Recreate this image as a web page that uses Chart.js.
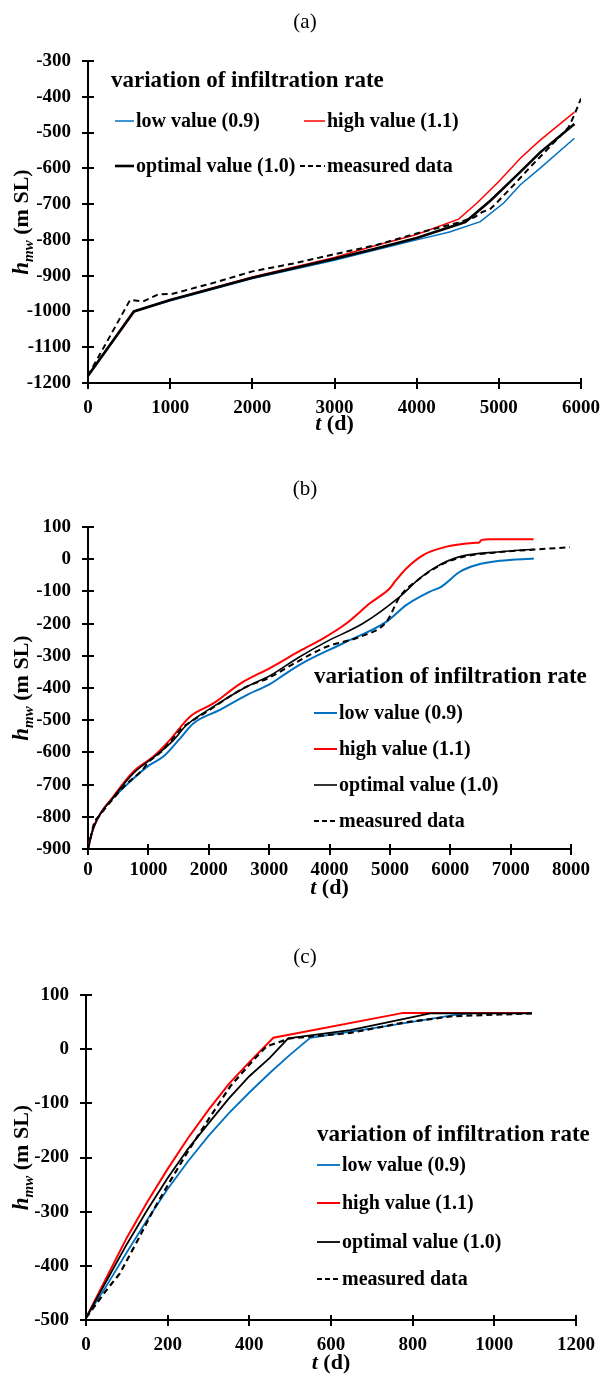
<!DOCTYPE html>
<html>
<head>
<meta charset="utf-8">
<script src="https://cdn.jsdelivr.net/npm/chart.js@4.4.1/dist/chart.umd.min.js"></script>
<style>
  body { margin: 0; background: #fff; }
  #wrap { position: relative; width: 600px; height: 1376px; }
  canvas { position: absolute; left: 0; }
</style>
</head>
<body>
<div id="wrap">
  <canvas id="chartA" width="600" height="440" style="top:0px"></canvas>
  <canvas id="chartB" width="600" height="470" style="top:440px"></canvas>
  <canvas id="chartC" width="600" height="466" style="top:910px"></canvas>
</div>
<script>
const seriesNames = ['low value (0.9)', 'high value (1.1)', 'optimal value (1.0)', 'measured data'];
const legendTitle = 'variation of infiltration rate';
const panelLabels = ['(a)', '(b)', '(c)'];

// axis ranges: [min, max, step]
const aX = [0, 6000, 1000], aY = [-1200, -300, 100];
const bX = [0, 8000, 1000], bY = [-900, 100, 100];
const cX = [0, 1200, 200], cY = [-500, 100, 100];

// panel (a) points: [t (d), h_mw (m SL)]
const aLow = [[0,-1180],[560,-1000],[1000,-970],[2000,-908],[3000,-857],[3435,-832],[4000,-800],[4400,-778],[4775,-749],[5059,-697],[5262,-646],[5500,-600],[5920,-516]];
const aHigh = [[0,-1180],[550,-1000],[1000,-967],[2000,-904],[3000,-849],[3435,-820],[4000,-785],[4511,-742],[4734,-697],[5000,-637],[5262,-572],[5500,-522],[5920,-443]];
const aOpt = [[0,-1180],[560,-1000],[1000,-968],[2000,-906],[3000,-853],[3435,-828],[4000,-795],[4592,-750],[4900,-690],[5262,-610],[5500,-556],[5920,-476]];
const aMeas = [[0,-1180],[512,-968],[671,-972],[855,-952],[1020,-951],[1500,-922],[2000,-888],[2500,-866],[3000,-840],[3500,-815],[4000,-782],[4500,-752],[4700,-737],[4800,-722],[4900,-713],[5000,-690],[5200,-642],[5400,-592],[5600,-545],[5850,-485],[5920,-450],[6000,-405]];

// panel (b)
const bLow = [[0,-900],[60,-852],[144,-812],[254,-776],[450,-735],[695,-691],[1000,-642],[1247,-613],[1500,-562],[1744,-510],[2185,-468],[2627,-422],[3013,-388],[3300,-352],[3620,-316],[4227,-261],[4945,-194],[5276,-142],[5662,-101],[5856,-85],[6159,-39],[6435,-18],[6821,-5],[7384,2]];
const bHigh = [[0,-900],[60,-852],[144,-810],[419,-737],[750,-660],[1082,-613],[1358,-561],[1689,-489],[2075,-448],[2517,-387],[3013,-338],[3510,-285],[3896,-246],[4283,-199],[4669,-137],[5000,-90],[5083,-70],[5276,-28],[5552,13],[5938,39],[6435,51],[6480,52],[6520,60],[6656,62],[7380,62]];
const bOpt = [[0,-900],[60,-852],[144,-810],[419,-740],[750,-665],[1137,-608],[1400,-565],[1634,-515],[2075,-458],[2627,-396],[3013,-362],[3480,-306],[3951,-256],[4558,-199],[5166,-116],[5497,-59],[5773,-23],[6159,8],[6821,23],[7384,31]];
const bMeas = [[0,-900],[40,-870],[100,-820],[200,-795],[300,-770],[400,-748],[600,-705],[800,-672],[900,-655],[1000,-630],[1200,-600],[1400,-558],[1550,-525],[1700,-505],[2000,-470],[2300,-432],[2600,-398],[3000,-368],[3450,-320],[3951,-272],[4503,-241],[4945,-194],[5166,-116],[5497,-60],[5800,-22],[6159,5],[6821,22],[7400,30],[7980,37]];

// panel (c)
const cLow = [[0,-496],[50,-437],[100,-375],[150,-315],[200,-258],[250,-207],[300,-160],[350,-118],[400,-80],[450,-44],[500,-10],[549,21],[704,39],[900,63],[950,67],[1092,67]];
const cHigh = [[0,-496],[50,-422],[100,-348],[150,-282],[200,-221],[250,-164],[300,-112],[350,-64],[400,-24],[459,21],[777,67],[1092,67]];
const cOpt = [[0,-496],[50,-428],[100,-360],[150,-297],[200,-238],[250,-184],[300,-137],[350,-91],[400,-50],[450,-16],[495,20],[647,35],[785,57],[843,66],[1092,66]];
const cMeas = [[0,-496],[50,-445],[83,-414],[125,-355],[165,-297],[205,-245],[247,-192],[304,-125],[353,-69],[410,-20],[442,5],[500,20],[647,30],[785,50],[900,61],[1014,64],[1092,66]];

const FONT = '"Liberation Serif", "Times New Roman", serif';
const colors = ['#0070c0', '#ff0000', '#000000', '#000000'];
const DASH = [6, 4];

function pts(arr) {
  return arr.map(p => ({x: p[0], y: p[1]}));
}

// text made of pieces with own fonts, drawn from x (left) on baseline y
function runsWidth(c, runs) {
  let w = 0;
  for (const r of runs) { c.font = r.f; w += c.measureText(r.t).width; }
  return w;
}
function drawRuns(c, runs, x, y) {
  for (const r of runs) {
    c.font = r.f;
    c.fillText(r.t, x, y + (r.dy || 0));
    x += c.measureText(r.t).width;
  }
}

const crossTicks = {
  id: 'crossTicks',
  afterDraw(chart) {
    const c = chart.ctx, a = chart.chartArea;
    const sx = chart.scales.x, sy = chart.scales.y;
    c.save();
    c.strokeStyle = '#000';
    c.lineWidth = 2;
    c.beginPath();
    sx.ticks.forEach((t, i) => {
      const px = Math.round(sx.getPixelForTick(i));
      c.moveTo(px, a.bottom); c.lineTo(px, a.bottom - 5);
    });
    sy.ticks.forEach((t, i) => {
      const py = Math.round(sy.getPixelForTick(i));
      c.moveTo(a.left, py); c.lineTo(a.left + 6, py);
    });
    c.stroke();
    c.restore();
  }
};

const panelDeco = {
  id: 'panelDeco',
  afterDraw(chart, args, o) {
    const c = chart.ctx, a = chart.chartArea;
    c.save();
    c.fillStyle = '#000';
    c.textBaseline = 'middle';
    // panel label
    c.font = '21px ' + FONT;
    c.textAlign = 'center';
    c.fillText(o.label, o.labelX, o.labelY);
    c.textAlign = 'left';
    // x title
    const xr = [{t: 't', f: 'italic bold 22px ' + FONT}, {t: ' (d)', f: 'bold 22px ' + FONT}];
    drawRuns(c, xr, (a.left + a.right) / 2 - runsWidth(c, xr) / 2, o.xTitleY);
    // y title, rotated
    const yr = [{t: 'h', f: 'italic bold 23px ' + FONT}, {t: 'mw', f: 'italic bold 15px ' + FONT, dy: 5}, {t: ' (m SL)', f: 'bold 22px ' + FONT}];
    c.translate(o.yTitleX, (a.top + a.bottom) / 2);
    c.rotate(-Math.PI / 2);
    c.textBaseline = 'alphabetic';
    drawRuns(c, yr, -runsWidth(c, yr) / 2, 0);
    c.setTransform(1, 0, 0, 1, 0, 0);
    // legend
    const L = o.legend;
    c.textBaseline = 'middle';
    c.font = 'bold 23px ' + FONT;
    c.fillText(legendTitle, L.titleX, L.titleY);
    L.items.forEach((it, i) => {
      c.beginPath();
      c.strokeStyle = colors[i];
      c.lineWidth = o.widths[i];
      c.setLineDash(i == 3 ? [5, 3] : []);
      c.moveTo(it.x1, it.y); c.lineTo(it.x2, it.y);
      c.stroke();
      c.setLineDash([]);
      c.font = 'bold 20px ' + FONT;
      c.fillText(seriesNames[i], it.x2 + 2, it.y + 1);
    });
    c.restore();
  }
};

function makeChart(id, series, xr, yr, box, deco) {
  const tickFont = {family: FONT, size: 19, weight: 'bold'};
  const grid = {display: true, drawOnChartArea: false, drawTicks: true, tickLength: 6, color: '#000', lineWidth: 2};
  const border = {display: true, color: '#000', width: 2};
  return new Chart(document.getElementById(id), {
    type: 'line',
    data: {
      datasets: series.map((d, i) => ({
        label: seriesNames[i],
        data: pts(d),
        borderColor: colors[i],
        borderWidth: deco.widths[i],
        borderDash: i == 3 ? DASH : [],
        pointRadius: 0,
        fill: false,
        tension: 0,
        cubicInterpolationMode: deco.smooth ? 'monotone' : 'default',
        order: 3 - i
      }))
    },
    options: {
      responsive: false,
      animation: false,
      layout: {padding: {top: box.top, right: box.right, left: 0, bottom: 0}},
      plugins: {legend: {display: false}, tooltip: {enabled: false}, panelDeco: deco},
      scales: {
        x: {
          type: 'linear', min: xr[0], max: xr[1],
          ticks: {stepSize: xr[2], autoSkip: false, maxRotation: 0, padding: box.xPad, color: '#000', font: tickFont, callback: v => String(v)},
          grid: grid, border: border,
          afterFit(s) { s.height = box.xH; s.paddingLeft = 0; s.paddingRight = 0; }
        },
        y: {
          type: 'linear', min: yr[0], max: yr[1],
          ticks: {stepSize: yr[2], autoSkip: false, padding: 11, color: '#000', font: tickFont, callback: v => String(v)},
          grid: grid, border: border,
          afterFit(s) { s.width = box.yW; s.paddingTop = 0; s.paddingBottom = 0; }
        }
      }
    },
    plugins: [crossTicks, panelDeco]
  });
}

makeChart('chartA', [aLow, aHigh, aOpt, aMeas], aX, aY,
  {top: 61, right: 19, yW: 88, xH: 57, xPad: 8},
  {label: panelLabels[0], labelX: 305, labelY: 22, xTitleY: 424, yTitleX: 28, widths: [1.5, 1.5, 2.6, 2], smooth: false,
   legend: {titleX: 111, titleY: 81, items: [
     {x1: 115, x2: 134, y: 121}, {x1: 304, x2: 325, y: 121},
     {x1: 115, x2: 134, y: 166}, {x1: 300, x2: 325, y: 166}]}});

makeChart('chartB', [bLow, bHigh, bOpt, bMeas], bX, bY,
  {top: 87, right: 29, yW: 88, xH: 61, xPad: 4},
  {label: panelLabels[1], labelX: 305, labelY: 49, xTitleY: 448, yTitleX: 28, widths: [2, 2, 1.6, 2], smooth: true,
   legend: {titleX: 314, titleY: 237, items: [
     {x1: 314, x2: 337, y: 273}, {x1: 314, x2: 337, y: 309},
     {x1: 314, x2: 337, y: 345}, {x1: 314, x2: 337, y: 381}]}});

makeChart('chartC', [cLow, cHigh, cOpt, cMeas], cX, cY,
  {top: 85, right: 24, yW: 86, xH: 56, xPad: 8},
  {label: panelLabels[2], labelX: 305, labelY: 47, xTitleY: 453, yTitleX: 28, widths: [1.8, 2, 1.8, 2.2], smooth: false,
   legend: {titleX: 317, titleY: 225, items: [
     {x1: 317, x2: 340, y: 255}, {x1: 317, x2: 340, y: 293},
     {x1: 317, x2: 340, y: 332}, {x1: 317, x2: 340, y: 369}]}});
</script>
</body>
</html>
